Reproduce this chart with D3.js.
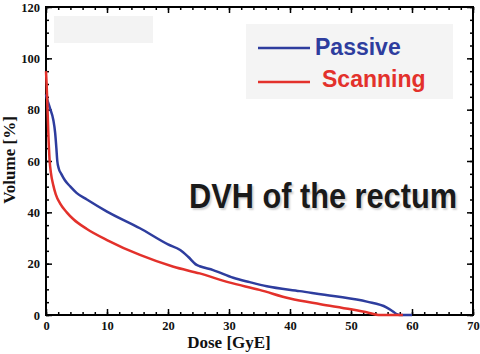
<!DOCTYPE html>
<html>
<head>
<meta charset="utf-8">
<script src="https://cdn.jsdelivr.net/npm/d3@7"></script>
<style>
  body { margin: 0; background: #fff; }
  svg { display: block; }
</style>
</head>
<body>
<svg id="chart"></svg>
<script>
// DVH data
const passiveDose   = [0, 0.2, 0.66, 1.2, 1.5, 1.7, 1.85, 2.1, 2.5, 3.1, 4, 5, 6.7, 10, 15.4, 20, 22, 23.3, 24.7, 25.2, 27.4, 30.7, 33.4, 36.2, 41.6, 47.1, 52.6, 55.8, 57, 57.5, 58, 60];
const passiveVolume = [86, 84, 80.5, 76, 71, 65, 60, 57, 55, 52.5, 50, 47.6, 45, 40.3, 33.8, 27.5, 25.3, 22.7, 19.5, 19, 17.5, 14.5, 12.8, 11.2, 9.3, 7.4, 5.2, 3, 1.2, 0.3, 0, 0];
const scanningDose   = [0, 0.1, 0.2, 0.38, 0.6, 0.8, 1.2, 1.6, 2.3, 3.4, 4.5, 6.7, 10, 15.4, 20.9, 25.2, 30, 35, 40, 45, 50, 53, 54.5, 58.5];
const scanningVolume = [95, 90, 84, 71, 60, 55.5, 50.5, 47, 43.5, 40, 37.3, 33.5, 29.2, 23.4, 18.8, 16.2, 12.7, 9.8, 6.4, 4.2, 2.2, 0.8, 0, 0];

const xTicks = [0, 10, 20, 30, 40, 50, 60, 70];
const yTicks = [0, 20, 40, 60, 80, 100, 120];
const seriesNames = ['Passive', 'Scanning'];

const width = 480, height = 354;
const margin = { top: 7, right: 7, bottom: 39, left: 46 };
const innerWidth = width - margin.left - margin.right;
const innerHeight = height - margin.top - margin.bottom;

const blue = '#2e3d9e';
const red = '#e3312b';

const svg = d3.select('#chart')
  .attr('width', width)
  .attr('height', height);

svg.append('rect').attr('width', width).attr('height', height).attr('fill', '#fff');

const x = d3.scaleLinear().domain([0, 70]).range([0, innerWidth]);
const y = d3.scaleLinear().domain([0, 120]).range([innerHeight, 0]);

const g = svg.append('g')
  .attr('transform', `translate(${margin.left},${margin.top})`);

// faint grey patch in upper left
g.append('rect')
  .attr('x', 8).attr('y', 9).attr('width', 99).attr('height', 27)
  .attr('fill', '#f3f3f3');

// legend box background
g.append('rect')
  .attr('x', 200).attr('y', 17).attr('width', 207).attr('height', 75)
  .attr('fill', '#f4f4f4');

const xMinor = d3.range(0, 71, 2);
const yMinor = d3.range(0, 121, 5);

function styleAxis(sel) {
  sel.select('.domain').remove();
  sel.selectAll('line').attr('stroke', '#000').attr('stroke-width', 1.5);
  sel.selectAll('text')
    .attr('font-family', '"Liberation Serif", "Times New Roman", serif')
    .attr('font-weight', 'bold')
    .attr('font-size', 12.5)
    .attr('fill', '#111');
}
// axes without labels: drop the empty text nodes
function noLabels(sel) {
  sel.selectAll('text').remove();
}

// bottom axis
g.append('g').attr('transform', `translate(0,${innerHeight})`)
  .call(d3.axisBottom(x).tickValues(xMinor).tickSize(-3))
  .call(styleAxis).call(noLabels);
g.append('g').attr('transform', `translate(0,${innerHeight})`)
  .call(d3.axisBottom(x).tickValues(xTicks).tickSize(-6))
  .call(styleAxis)
  .call(a => a.selectAll('text').attr('dy', null).attr('y', 15));
// top axis
g.append('g')
  .call(d3.axisTop(x).tickValues(xMinor).tickSize(-3))
  .call(styleAxis).call(noLabels);
g.append('g')
  .call(d3.axisTop(x).tickValues(xTicks).tickSize(-6))
  .call(styleAxis).call(noLabels);
// left axis
g.append('g')
  .call(d3.axisLeft(y).tickValues(yMinor).tickSize(-3))
  .call(styleAxis).call(noLabels);
g.append('g')
  .call(d3.axisLeft(y).tickValues(yTicks).tickSize(-6))
  .call(styleAxis)
  .call(a => a.selectAll('text').attr('dy', null).attr('x', -6).attr('y', 4));
// right axis
g.append('g').attr('transform', `translate(${innerWidth},0)`)
  .call(d3.axisRight(y).tickValues(yMinor).tickSize(-3))
  .call(styleAxis).call(noLabels);
g.append('g').attr('transform', `translate(${innerWidth},0)`)
  .call(d3.axisRight(y).tickValues(yTicks).tickSize(-6))
  .call(styleAxis).call(noLabels);

// frame
g.append('rect')
  .attr('width', innerWidth).attr('height', innerHeight)
  .attr('fill', 'none').attr('stroke', '#000').attr('stroke-width', 2);

const line = d3.line()
  .x(d => x(d[0]))
  .y(d => y(d[1]))
  .curve(d3.curveMonotoneX);

const passive = passiveDose.map((d, i) => [d, passiveVolume[i]]);
const scanning = scanningDose.map((d, i) => [d, scanningVolume[i]]);

g.append('path').datum(passive)
  .attr('d', line)
  .attr('fill', 'none').attr('stroke', blue).attr('stroke-width', 2.5);
g.append('path').datum(scanning)
  .attr('d', line)
  .attr('fill', 'none').attr('stroke', red).attr('stroke-width', 2.5);

// legend
const legend = g.append('g');
const legendRows = [
  { name: seriesNames[0], color: blue, ly: 41, tx: 269, ty: 48 },
  { name: seriesNames[1], color: red, ly: 75, tx: 276, ty: 80 }
];
legendRows.forEach(r => {
  legend.append('line')
    .attr('x1', 212).attr('x2', 264).attr('y1', r.ly).attr('y2', r.ly)
    .attr('stroke', r.color).attr('stroke-width', 2.5);
  legend.append('text')
    .attr('x', r.tx).attr('y', r.ty)
    .attr('font-family', '"Liberation Sans", Arial, sans-serif')
    .attr('font-weight', 'bold')
    .attr('font-size', 23)
    .attr('fill', r.color)
    .text(r.name);
});

// annotation
g.append('text')
  .attr('x', 143).attr('y', 201)
  .attr('font-family', '"Liberation Sans", Arial, sans-serif')
  .attr('font-weight', 'bold')
  .attr('font-size', 35)
  .attr('fill', '#1a1a1a')
  .attr('textLength', 268)
  .attr('lengthAdjust', 'spacingAndGlyphs')
  .style('text-shadow', '2px 2px 2px rgba(0,0,0,0.18)')
  .text('DVH of the rectum');

// axis titles
svg.append('text')
  .attr('x', 229).attr('y', 348)
  .attr('text-anchor', 'middle')
  .attr('font-family', '"Liberation Serif", "Times New Roman", serif')
  .attr('font-weight', 'bold')
  .attr('font-size', 17)
  .attr('fill', '#111')
  .text('Dose [GyE]');

svg.append('text')
  .attr('transform', 'translate(15,160) rotate(-90)')
  .attr('text-anchor', 'middle')
  .attr('font-family', '"Liberation Serif", "Times New Roman", serif')
  .attr('font-weight', 'bold')
  .attr('font-size', 17)
  .attr('fill', '#111')
  .text('Volume [%]');
</script>
</body>
</html>
